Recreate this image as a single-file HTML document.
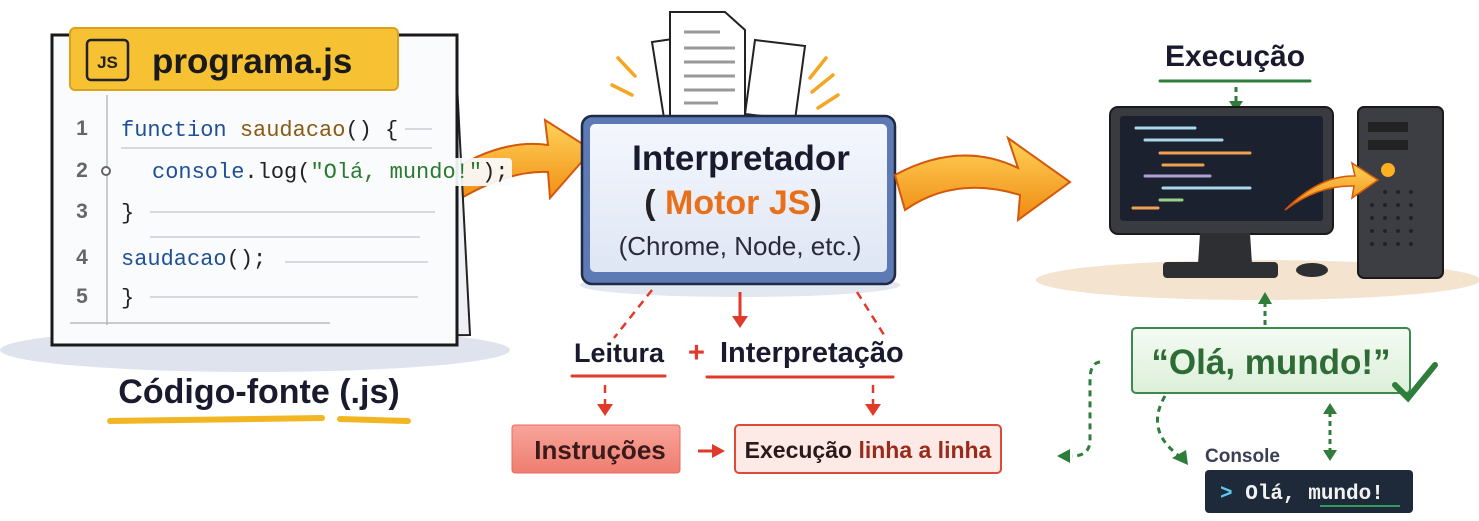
<!DOCTYPE html>
<html><head><meta charset="utf-8"><style>
html,body{margin:0;padding:0;background:#fff;width:1479px;height:521px;overflow:hidden}
svg{display:block}
.b{font-family:"Liberation Sans","DejaVu Sans",sans-serif;font-weight:bold}
.m{font-family:"Liberation Mono","DejaVu Sans Mono",monospace}
</style></head><body>
<svg width="1479" height="521" viewBox="0 0 1479 521" xmlns="http://www.w3.org/2000/svg">
<defs>
<linearGradient id="og" x1="0" y1="0" x2="0" y2="1"><stop offset="0" stop-color="#ffd35a"/><stop offset="1" stop-color="#f08a10"/></linearGradient>
<linearGradient id="bx" x1="0" y1="0" x2="0" y2="1"><stop offset="0" stop-color="#f4f7fd"/><stop offset="1" stop-color="#dfe6f4"/></linearGradient>
<linearGradient id="sal" x1="0" y1="0" x2="0" y2="1"><stop offset="0" stop-color="#f9a49a"/><stop offset="1" stop-color="#ee7d70"/></linearGradient>
<linearGradient id="gr" x1="0" y1="0" x2="0" y2="1"><stop offset="0" stop-color="#f4fbf3"/><stop offset="1" stop-color="#dcefd9"/></linearGradient>
</defs>

<path d="M445 175 Q500 138 548 145 L545 120 L592 150 L550 198 L548 172 Q505 170 450 205 Z" fill="url(#og)" stroke="#d4580c" stroke-width="2"/>

<ellipse cx="255" cy="350" rx="255" ry="22" fill="#dfe3ee"/>
<path d="M56 40 L455 45 L470 335 L60 340 Z" fill="#eef0f5" stroke="#222" stroke-width="2"/>
<rect x="52" y="35" width="405" height="310" fill="#fafbfd" stroke="#1a1a1a" stroke-width="3"/>
<rect x="440" y="158" width="72" height="28" rx="4" fill="#fafbfd" opacity="0.92"/>
<rect x="70" y="28" width="328" height="62" rx="5" fill="#f6c233" stroke="#d9a21e" stroke-width="2"/>
<rect x="87" y="40" width="41" height="40" rx="4" fill="none" stroke="#222" stroke-width="2.5"/>
<text x="107.5" y="68" text-anchor="middle" class="b" font-size="17" fill="#222">JS</text>
<text x="152" y="73" class="b" font-size="35" fill="#1a1a1a">programa.js</text>
<line x1="107" y1="95" x2="107" y2="325" stroke="#bbb" stroke-width="1.5"/>
<line x1="70" y1="323" x2="330" y2="323" stroke="#bbb" stroke-width="1.5"/>
<g class="b" font-size="21" fill="#666" text-anchor="middle">
<text x="82" y="135">1</text><text x="82" y="177">2</text><text x="82" y="218">3</text><text x="82" y="264">4</text><text x="82" y="303">5</text></g>
<circle cx="106" cy="171" r="4" fill="#fff" stroke="#666" stroke-width="2"/>
<g stroke="#d5d8e0" stroke-width="2">
<line x1="405" y1="129" x2="432" y2="129"/><line x1="121" y1="148" x2="432" y2="148"/>
<line x1="150" y1="212" x2="435" y2="212"/><line x1="150" y1="237" x2="420" y2="237"/>
<line x1="285" y1="262" x2="428" y2="262"/><line x1="150" y1="297" x2="418" y2="297"/></g>
<g class="m" font-size="22">
<text x="121" y="136"><tspan fill="#1f4f96">function</tspan> <tspan fill="#8a5a14">saudacao</tspan><tspan fill="#222">() {</tspan></text>
<text x="152" y="178"><tspan fill="#1f4f96">console</tspan><tspan fill="#222">.log(</tspan><tspan fill="#2a7a2f">"Olá, mundo!"</tspan><tspan fill="#222">);</tspan></text>
<text x="121" y="219" fill="#222">}</text>
<text x="121" y="265"><tspan fill="#1f4f96">saudacao</tspan><tspan fill="#222">();</tspan></text>
<text x="121" y="304" fill="#222">}</text></g>
<text x="259" y="403" text-anchor="middle" class="b" font-size="34" fill="#1a1a2e">Código-fonte (.js)</text>
<line x1="110" y1="421" x2="322" y2="418" stroke="#f3b623" stroke-width="6" stroke-linecap="round"/>
<line x1="340" y1="419" x2="408" y2="421" stroke="#f3b623" stroke-width="6" stroke-linecap="round"/>

<g fill="#fff" stroke="#222" stroke-width="2">
<path d="M652 42 L700 35 L712 112 L664 118 Z"/><path d="M755 40 L805 46 L795 120 L745 114 Z"/>
<path d="M670 12 L725 12 L745 30 L745 122 L670 122 Z"/></g>
<g stroke="#999" stroke-width="3"><line x1="684" y1="32" x2="720" y2="32"/><line x1="684" y1="48" x2="735" y2="48"/><line x1="684" y1="62" x2="735" y2="62"/><line x1="684" y1="76" x2="735" y2="76"/><line x1="684" y1="90" x2="735" y2="90"/><line x1="684" y1="103" x2="718" y2="103"/></g>
<g stroke="#f5a623" stroke-width="3.5" stroke-linecap="round"><line x1="618" y1="58" x2="635" y2="76"/><line x1="612" y1="85" x2="632" y2="95"/><line x1="826" y1="58" x2="810" y2="78"/><line x1="833" y1="75" x2="812" y2="92"/><line x1="838" y1="95" x2="818" y2="108"/></g>
<ellipse cx="740" cy="285" rx="160" ry="12" fill="#e3e7f0"/>
<rect x="582" y="116" width="313" height="168" rx="10" fill="#5d7ab5" stroke="#1f2a44" stroke-width="2.5"/>
<rect x="590" y="124" width="297" height="148" rx="5" fill="url(#bx)"/>
<text x="741" y="170" text-anchor="middle" class="b" font-size="35" fill="#1a1a2e">Interpretador</text>
<text x="733" y="214" text-anchor="middle" class="b" font-size="34"><tspan fill="#222">(</tspan><tspan fill="#e8701a"> Motor JS</tspan><tspan fill="#222">)</tspan></text>
<text x="740" y="255" text-anchor="middle" font-family="Liberation Sans,sans-serif" font-size="26" fill="#2a2a3a">(Chrome, Node, etc.)</text>

<path d="M895 175 Q960 140 1018 168 L1008 138 L1070 182 L1018 220 L1020 195 Q955 175 905 210 Z" fill="url(#og)" stroke="#d4580c" stroke-width="2"/>

<g stroke="#e03a2a" stroke-width="2.5" fill="none" stroke-dasharray="8 6"><path d="M652 290 L614 338"/><path d="M857 292 L886 338"/><line x1="605" y1="385" x2="605" y2="405"/><line x1="873" y1="385" x2="873" y2="405"/></g>
<line x1="740" y1="292" x2="740" y2="318" stroke="#e03a2a" stroke-width="3"/>
<g fill="#e03a2a"><path d="M732 316 L748 316 L740 328 Z"/><path d="M597 404 L613 404 L605 416 Z"/><path d="M865 404 L881 404 L873 416 Z"/><path d="M712 444 L725 451 L712 458 Z"/></g>
<line x1="698" y1="451" x2="714" y2="451" stroke="#e03a2a" stroke-width="3"/>
<text x="574" y="362" class="b" font-size="27" fill="#1a1a2e">Leitura</text>
<text x="688" y="362" class="b" font-size="29" fill="#e03a2a">+</text>
<text x="720" y="362" class="b" font-size="29" fill="#1a1a2e">Interpretação</text>
<line x1="572" y1="376" x2="665" y2="376" stroke="#e03a2a" stroke-width="3" stroke-linecap="round"/>
<line x1="707" y1="377" x2="893" y2="377" stroke="#e03a2a" stroke-width="3" stroke-linecap="round"/>
<rect x="512" y="425" width="168" height="48" rx="3" fill="url(#sal)" stroke="#e96a5c"/>
<text x="600" y="459" text-anchor="middle" class="b" font-size="26" fill="#3a1a1a">Instruções</text>
<rect x="735" y="425" width="266" height="48" rx="4" fill="#fdeae6" stroke="#de4a3a" stroke-width="2"/>
<text x="868" y="458" text-anchor="middle" class="b" font-size="23"><tspan fill="#2a1a1a">Execução </tspan><tspan fill="#9a2a1a">linha a linha</tspan></text>

<text x="1235" y="66" text-anchor="middle" class="b" font-size="30" fill="#1a1a2e">Execução</text>
<line x1="1160" y1="81" x2="1310" y2="81" stroke="#2f7d3a" stroke-width="3" stroke-linecap="round"/>
<line x1="1236" y1="87" x2="1236" y2="103" stroke="#2f7d3a" stroke-width="3" stroke-dasharray="5 4"/>
<path d="M1229 101 L1243 101 L1236 112 Z" fill="#2f7d3a"/>
<ellipse cx="1258" cy="280" rx="222" ry="20" fill="#f4e3cf"/>
<rect x="1110" y="107" width="223" height="127" rx="8" fill="#3a3b40" stroke="#1a1a1a" stroke-width="2"/>
<rect x="1120" y="116" width="203" height="105" rx="3" fill="#1c2130"/>
<g stroke-width="3" stroke-linecap="round"><line x1="1136" y1="128" x2="1195" y2="128" stroke="#a9d8e8"/><line x1="1145" y1="140" x2="1222" y2="140" stroke="#a9d8e8"/><line x1="1160" y1="153" x2="1250" y2="153" stroke="#f0a050"/><line x1="1163" y1="165" x2="1203" y2="165" stroke="#f0a050"/><line x1="1145" y1="176" x2="1210" y2="176" stroke="#b0a0d8"/><line x1="1163" y1="188" x2="1250" y2="188" stroke="#a9d8e8"/><line x1="1160" y1="200" x2="1182" y2="200" stroke="#9ad08a"/><line x1="1133" y1="208" x2="1158" y2="208" stroke="#f0a050"/></g>
<path d="M1200 233 L1250 233 L1252 264 L1198 264 Z" fill="#2e2f33"/>
<rect x="1163" y="262" width="115" height="16" rx="4" fill="#2e2f33"/>
<ellipse cx="1312" cy="270" rx="16" ry="7" fill="#2e2f33"/>
<rect x="1358" y="107" width="85" height="171" rx="6" fill="#3d3e44" stroke="#1a1a1a" stroke-width="2"/>
<rect x="1368" y="122" width="40" height="10" fill="#222"/><rect x="1368" y="140" width="40" height="10" fill="#222"/>
<circle cx="1388" cy="170" r="7" fill="#ffb020"/>
<g fill="#222"><circle cx="1385" cy="192" r="2"/><circle cx="1398" cy="192" r="2"/><circle cx="1411" cy="192" r="2"/><circle cx="1372" cy="205" r="2"/><circle cx="1385" cy="205" r="2"/><circle cx="1398" cy="205" r="2"/><circle cx="1411" cy="205" r="2"/><circle cx="1372" cy="218" r="2"/><circle cx="1385" cy="218" r="2"/><circle cx="1398" cy="218" r="2"/><circle cx="1411" cy="218" r="2"/><circle cx="1372" cy="231" r="2"/><circle cx="1385" cy="231" r="2"/><circle cx="1398" cy="231" r="2"/><circle cx="1411" cy="231" r="2"/><circle cx="1372" cy="244" r="2"/><circle cx="1385" cy="244" r="2"/><circle cx="1398" cy="244" r="2"/><circle cx="1411" cy="244" r="2"/></g>
<path d="M1285 210 Q1320 175 1355 176 L1352 163 L1378 180 L1352 198 L1354 186 Q1318 185 1285 210 Z" fill="url(#og)" stroke="#d4580c" stroke-width="1.5"/>
<line x1="1265" y1="325" x2="1265" y2="302" stroke="#2f7d3a" stroke-width="3" stroke-dasharray="5 4"/>
<path d="M1258 304 L1272 304 L1265 292 Z" fill="#2f7d3a"/>
<rect x="1132" y="328" width="278" height="65" rx="4" fill="url(#gr)" stroke="#3b8a4a" stroke-width="2"/>
<text x="1271" y="374" text-anchor="middle" class="b" font-size="35" fill="#2e6b35">“Olá, mundo!”</text>
<path d="M1395 385 L1408 398 L1435 365" fill="none" stroke="#2f7d3a" stroke-width="6" stroke-linecap="round"/>
<path d="M1100 362 Q1090 363 1090 380 L1090 440 Q1090 456 1072 456" fill="none" stroke="#2f7d3a" stroke-width="3" stroke-dasharray="6 5"/>
<path d="M1070 449 L1070 463 L1057 456 Z" fill="#2f7d3a"/>
<path d="M1165 396 Q1145 430 1178 455" fill="none" stroke="#2f7d3a" stroke-width="3" stroke-dasharray="6 5"/>
<path d="M1172 458 L1186 450 L1188 465 Z" fill="#2f7d3a"/>
<line x1="1330" y1="412" x2="1330" y2="450" stroke="#2f7d3a" stroke-width="3" stroke-dasharray="5 4"/>
<path d="M1323 414 L1337 414 L1330 403 Z" fill="#2f7d3a"/><path d="M1323 450 L1337 450 L1330 461 Z" fill="#2f7d3a"/>
<text x="1205" y="462" font-family="Liberation Sans,sans-serif" font-weight="bold" font-size="19" fill="#3a3f55">Console</text>
<rect x="1205" y="470" width="208" height="43" rx="4" fill="#1e2a3a"/>
<text x="1220" y="499" class="m" font-size="21" font-weight="bold"><tspan fill="#5fc8f0">&gt;</tspan><tspan fill="#f2f2f2"> Olá, mundo!</tspan></text>
<line x1="1320" y1="506" x2="1400" y2="506" stroke="#2f9a5a" stroke-width="2"/>
</svg>
</body></html>
